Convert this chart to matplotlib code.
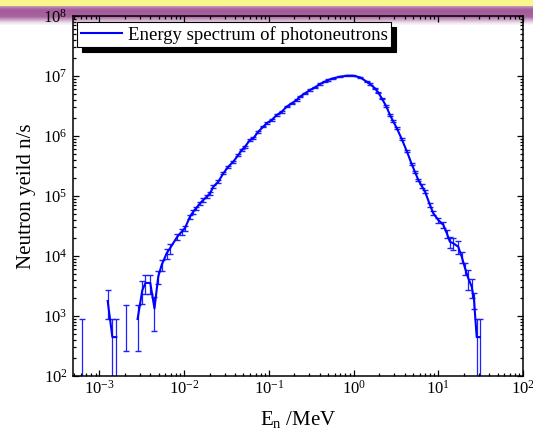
import numpy as np
import matplotlib
matplotlib.use("Agg")
import matplotlib.pyplot as plt
from matplotlib.ticker import LogLocator, NullFormatter

plt.rcParams['font.family'] = ['Liberation Serif', 'DejaVu Serif']
plt.rcParams['mathtext.fontset'] = 'custom'
plt.rcParams['mathtext.rm'] = 'Liberation Serif'
plt.rcParams['mathtext.it'] = 'Liberation Serif:italic'

# neutron energy (MeV), yield (n/s) and relative error; nan = empty bin
energy = [6.27e-4, 9.5e-4, 1.25e-3, 1.42e-3, 1.58e-3, 1.8e-3, 2.06e-3, 2.4e-3,
          2.82e-3, 3.20e-3, 3.49e-3, 3.98e-3, 4.46e-3, 4.94e-3, 5.42e-3, 6.21e-3,
          6.79e-3, 8.30e-3, 9.33e-3, 1.02e-2, 1.17e-2, 1.28e-2, 1.38e-2, 1.54e-2,
          1.68e-2, 1.85e-2, 2.02e-2, 2.21e-2, 2.53e-2, 2.90e-2, 3.32e-2, 3.80e-2,
          4.36e-2, 4.78e-2, 5.22e-2, 5.98e-2, 6.55e-2, 7.50e-2, 8.59e-2, 9.42e-2,
          0.108, 0.124, 0.142, 0.162, 0.186, 0.213, 0.233, 0.267, 0.305, 0.350,
          0.401, 0.459, 0.502, 0.575, 0.690, 0.830, 0.99, 1.19, 1.43, 1.56,
          1.79, 1.96, 2.15, 2.42, 2.69, 2.92, 3.23, 3.70, 4.24, 4.85,
          5.31, 5.81, 6.37, 6.97, 7.98, 8.73, 10.0, 11.5, 12.6, 13.7,
          15.0, 17.2, 18.9, 20.7, 22.6, 24.8, 26.4, 28.4, 31.0]
yield_ns = [445, np.nan, 1780, 445, 445, np.nan, 890, np.nan,
            890, 2670, 3560, 3560, 1335, 4520, 7080, 11100,
            13400, 21000, 25400, 29000, 45200, 54700, 62400, 75500,
            85800, 97300, 1.11e5, 1.43e5, 1.73e5, 2.39e5, 3.08e5, 3.73e5,
            4.82e5, 5.84e5, 6.63e5, 8.58e5, 9.16e5, 1.18e6, 1.43e6, 1.63e6,
            1.85e6, 2.24e6, 2.54e6, 3.08e6, 3.51e6, 3.98e6, 4.52e6, 5.15e6, 5.84e6, 6.48e6,
            7.36e6, 8.04e6, 8.58e6, 9.16e6, 9.73e6, 1.01e7, 1.01e7, 9.5e6, 8.04e6, 7.36e6,
            6.24e6, 5.27e6, 4.25e6, 3.16e6, 2.24e6, 1.78e6, 1.36e6, 8.91e5, 5.62e5, 3.41e5,
            2.51e5, 1.85e5, 1.47e5, 1.18e5, 7.08e4, 5.15e4, 3.98e4, 3.28e4, 2.39e4, 1.73e4,
            1.63e4, 1.43e4, 9.73e3, 6.24e3, 4.25e3, 3.08e3, 1.85e3, 445, 445]
rel_err = [1.0, np.nan, 0.5, 1.0, 1.0, np.nan, 0.71, np.nan,
           0.71, 0.41, 0.35, 0.35, 0.58, 0.25, 0.2, 0.2,
           0.18, 0.12, 0.11, 0.1, 0.08, 0.07, 0.07, 0.06,
           0.06, 0.05, 0.05, 0.05, 0.05, 0.04, 0.04, 0.04,
           0.04, 0.04, 0.04, 0.04, 0.035, 0.035, 0.03, 0.03,
           0.03, 0.03, 0.03, 0.03, 0.03, 0.025, 0.025, 0.025, 0.025, 0.025,
           0.02, 0.02, 0.02, 0.02, 0.02, 0.02, 0.02, 0.02, 0.02, 0.02,
           0.02, 0.025, 0.025, 0.025, 0.03, 0.03, 0.03, 0.035, 0.04, 0.04,
           0.05, 0.05, 0.06, 0.06, 0.07, 0.08, 0.1, 0.12, 0.15, 0.2,
           0.22, 0.25, 0.2, 0.22, 0.35, 0.35, 0.3, 1.0, 1.0]

x = np.array(energy)
y = np.array(yield_ns, dtype=float)
err = y * np.array(rel_err)

fig = plt.figure(figsize=(5.33, 4.34), dpi=100)

# slide background strip at the top
band_h = 26
rows = np.arange(band_h)
alpha = np.interp(rows, [0, 5, 6, 8, 10, 16, 19, 22, 25],
                  [0, 0, 0.6, 0.85, 0.95, 0.9, 0.55, 0.2, 0])
band = np.ones((band_h, 2, 4))
band[:, :, :3] = np.array([0.62, 0.32, 0.58])
band[:, :, 3] = alpha[:, None]
yellow = rows < 6
band[yellow, :, :3] = np.array([0.98, 0.965, 0.55])
band[yellow, :, 3] = 1
bax = fig.add_axes([0, 1 - band_h / 434, 1, band_h / 434], zorder=0)
bax.imshow(band, aspect='auto', interpolation='bilinear', extent=(0, 1, 0, 1))
bax.axis('off')

ax = fig.add_axes([73 / 533, 58 / 434, 450 / 533, 360 / 434], zorder=1)
ax.set_facecolor('none')
ax.set_xscale('log')
ax.set_yscale('log')

ax.errorbar(x, y, yerr=err, fmt='none', ecolor='#2020ff', elinewidth=0.9,
            capsize=2.4, capthick=1.0)
ax.plot(x, y, color='#0000ff', lw=1.5, label='Energy spectrum of photoneutrons')

ax.set_xlim(4.87e-4, 100)
ax.set_ylim(1e2, 1e8)
ax.xaxis.set_major_locator(LogLocator(base=10, numticks=10))
ax.yaxis.set_major_locator(LogLocator(base=10, numticks=10))
ax.xaxis.set_minor_locator(LogLocator(base=10, subs=np.arange(2, 10), numticks=20))
ax.yaxis.set_minor_locator(LogLocator(base=10, subs=np.arange(2, 10), numticks=20))
ax.xaxis.set_minor_formatter(NullFormatter())
ax.yaxis.set_minor_formatter(NullFormatter())

ax.tick_params(which='both', direction='in', top=True, right=True, width=0.9,
               labelsize=12)
ax.tick_params(which='major', length=4.5)
ax.tick_params(which='minor', length=2.5)
ax.tick_params(axis='y', pad=4)
ax.tick_params(axis='x', pad=3)
for s in ax.spines.values():
    s.set_linewidth(1.1)

ax.set_xlabel(r'E$_\mathrm{n}$ /MeV', fontsize=15, labelpad=8)
ax.set_ylabel('Neutron yeild n/s', fontsize=15, labelpad=5)

leg = ax.legend(loc='upper left', bbox_to_anchor=(0.009, 0.983), borderaxespad=0,
                fontsize=13.5, fancybox=False, edgecolor='black', framealpha=1,
                handlelength=2.2, handletextpad=0.3, borderpad=0.2,
                shadow={'ox': 3.5, 'oy': -3.5, 'color': 'black', 'alpha': 1})
leg.get_frame().set_linewidth(0.8)

fig.savefig('out.png', dpi=100)
